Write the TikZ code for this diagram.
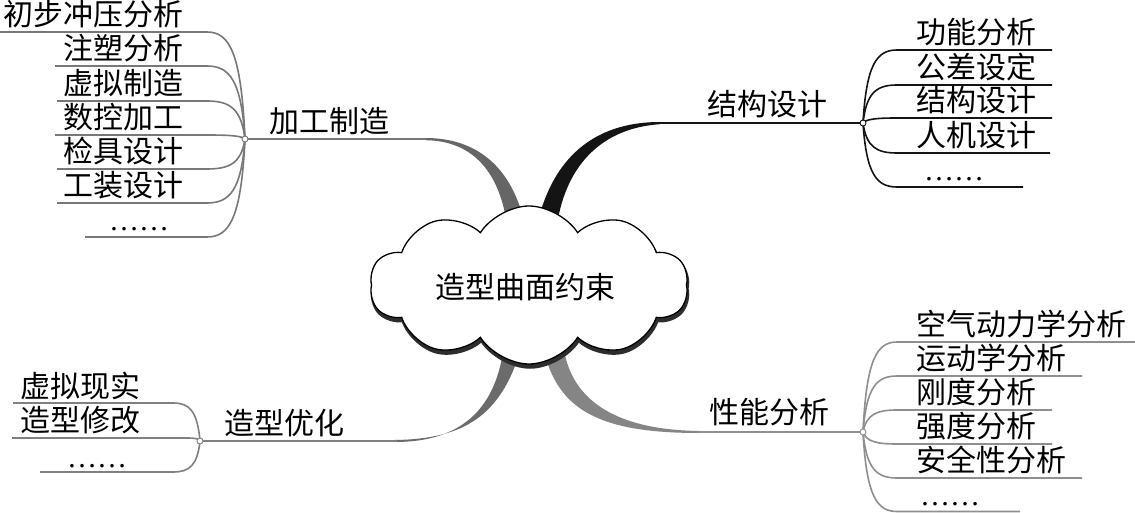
\documentclass[tikz,border=0pt]{standalone}
\usepackage{fontspec}
\newfontfamily\cjk{Noto Sans CJK SC}
\newfontfamily\dotfont{Liberation Serif}
\usetikzlibrary{calc,shapes.symbols}
\definecolor{cA}{gray}{0.47}
\definecolor{gA}{gray}{0.40}
\definecolor{cB}{gray}{0.08}
\definecolor{cC}{gray}{0.50}
\definecolor{gC}{gray}{0.42}
\definecolor{cD}{gray}{0.56}
\definecolor{gD}{gray}{0.52}
\newcommand\mmleaf[6]{%
  \coordinate (#1s) at (#4,#6);
  \coordinate (#1c) at (#5,#6);
  \draw[#3] (#2) to[branch] (#1c) -- (#1s);}
\begin{document}
\begin{tikzpicture}[x=1pt,y=-1pt,
  txt/.style={font=\cjk\fontsize{30}{30}\selectfont, inner sep=0pt},
  dts/.style={font=\dotfont\fontsize{30}{30}\selectfont, inner sep=0pt},
  branch/.style={to path={let \p1=(\tikztostart), \p2=(\tikztotarget) in
     .. controls (\x1+0.1*\x2-0.1*\x1, \y1+0.8*\y2-0.8*\y1) and (\x1+0.4*\x2-0.4*\x1, \y2) .. (\tikztotarget)}},
  leafA/.style={draw=cA, line width=1.6pt},
  leafB/.style={draw=cB, line width=1.6pt},
  leafC/.style={draw=cC, line width=1.6pt},
  leafD/.style={draw=cD, line width=1.6pt},
  hubdot/.style={circle, fill=white, inner sep=0pt, minimum size=6pt, line width=0.9pt},
  cloudshape/.style={cloud, cloud puffs=10, cloud puff arc=115, aspect=2.0,
     minimum width=318pt, minimum height=158pt, inner sep=0pt}
]
\useasboundingbox (0,0) rectangle (1135,513);
\fill[white] (0,0) rectangle (1135,513);

% tapered main branches
\fill[gA] (425,140.2) .. controls (475,140.5) and (500,175) .. (507,225) -- (525,225)
   .. controls (511,162) and (472,137.8) .. (425,138) -- cycle;
\fill[cB] (537,225) .. controls (552,160) and (592,122) .. (660,122) -- (660,124.2)
   .. controls (602,128) and (566,165) .. (557,225) -- cycle;
\fill[gC] (503,352) .. controls (494,410) and (460,442) .. (395,442) -- (395,440)
   .. controls (465,439) and (500,415) .. (520,352) -- cycle;
\fill[gD] (545,355) .. controls (560,410) and (600,433.2) .. (700,433) -- (700,431)
   .. controls (615,430) and (575,400) .. (565,355) -- cycle;

% hubs
\coordinate (hA) at (245,139);
\coordinate (hB) at (863,123);
\coordinate (hC) at (200,441);
\coordinate (hD) at (863,432);
\coordinate (bA) at (427,139);
\coordinate (bB) at (658,123);
\coordinate (bC) at (397,441);
\coordinate (bD) at (698,432);
\draw[cA, line width=2pt] (hA) -- (bA);
\draw[cB, line width=2pt] (hB) -- (bB);
\draw[cC, line width=2pt] (hC) -- (bC);
\draw[cD, line width=2pt] (hD) -- (bD);

% 加工制造 leaves
\mmleaf{a1}{hA}{leafA}{0}{207}{32}
\mmleaf{a2}{hA}{leafA}{55}{207}{66}
\mmleaf{a3}{hA}{leafA}{57}{207}{101}
\mmleaf{a4}{hA}{leafA}{55}{207}{135}
\mmleaf{a5}{hA}{leafA}{57}{207}{169}
\mmleaf{a6}{hA}{leafA}{57}{207}{203}
\mmleaf{a7}{hA}{leafA}{85}{207}{237}
\node[txt, anchor=south east] (ta1) at (184,28) {初步冲压分析};
\node[txt, anchor=south east] (ta2) at (184,62) {注塑分析};
\node[txt, anchor=south east] (ta3) at (184,97) {虚拟制造};
\node[txt, anchor=south east] (ta4) at (184,131) {数控加工};
\node[txt, anchor=south east] (ta5) at (184,165) {检具设计};
\node[txt, anchor=south east] (ta6) at (184,199) {工装设计};
\node[dts, anchor=base west] (ta7) at (109,231) {……};

% 结构设计 leaves
\mmleaf{b1}{hB}{leafB}{1052}{897}{50}
\mmleaf{b2}{hB}{leafB}{1052}{897}{85}
\mmleaf{b3}{hB}{leafB}{1052}{897}{118}
\mmleaf{b4}{hB}{leafB}{1050}{897}{153}
\mmleaf{b5}{hB}{leafB}{1023}{897}{187}
\node[txt, anchor=south west] (tb1) at (916,46) {功能分析};
\node[txt, anchor=south west] (tb2) at (916,81) {公差设定};
\node[txt, anchor=south west] (tb3) at (916,114) {结构设计};
\node[txt, anchor=south west] (tb4) at (916,149) {人机设计};
\node[dts, anchor=base west] (tb5) at (924,181) {……};

% 造型优化 leaves
\mmleaf{c1}{hC}{leafC}{13}{173}{403}
\mmleaf{c2}{hC}{leafC}{12}{187}{438}
\mmleaf{c3}{hC}{leafC}{40}{173}{472}
\node[txt, anchor=south west] (tc1) at (20,400) {虚拟现实};
\node[txt, anchor=south west] (tc2) at (20,434) {造型修改};
\node[dts, anchor=base west] (tc3) at (67,467) {……};

% 性能分析 leaves
\mmleaf{d1}{hD}{leafD}{1135}{897}{342}
\mmleaf{d2}{hD}{leafD}{1082}{897}{376}
\mmleaf{d3}{hD}{leafD}{1052}{897}{410}
\mmleaf{d4}{hD}{leafD}{1052}{897}{444}
\mmleaf{d5}{hD}{leafD}{1082}{897}{478}
\mmleaf{d6}{hD}{leafD}{1020}{897}{511.5}
\node[txt, anchor=south west] (td1) at (916,338) {空气动力学分析};
\node[txt, anchor=south west] (td2) at (916,372) {运动学分析};
\node[txt, anchor=south west] (td3) at (916,406) {刚度分析};
\node[txt, anchor=south west] (td4) at (916,440) {强度分析};
\node[txt, anchor=south west] (td5) at (916,474) {安全性分析};
\node[dts, anchor=base west] (td6) at (920,505) {……};

% hub dots
\node[hubdot, draw=cA] (hAd) at (hA) {};
\node[hubdot, draw=cB] (hBd) at (hB) {};
\node[hubdot, draw=cC] (hCd) at (hC) {};
\node[hubdot, draw=cD] (hDd) at (hD) {};

% branch labels
\node[txt, anchor=south west] (lA) at (269,135) {加工制造};
\node[txt, anchor=south west] (lB) at (707,118) {结构设计};
\node[txt, anchor=south west] (lC) at (224,437) {造型优化};
\node[txt, anchor=south west] (lD) at (709,426) {性能分析};

% cloud
\node[cloudshape, fill=gray!35!black, draw=gray!35!black, line width=2.5pt] (cloudsh) at (530,288.5) {};
\node[cloudshape, fill=white, draw=black, line width=1.3pt] (cloud) at (529,285) {};
\node[txt] (ctext) at (525,287) {造型曲面约束};
\end{tikzpicture}
\end{document}
